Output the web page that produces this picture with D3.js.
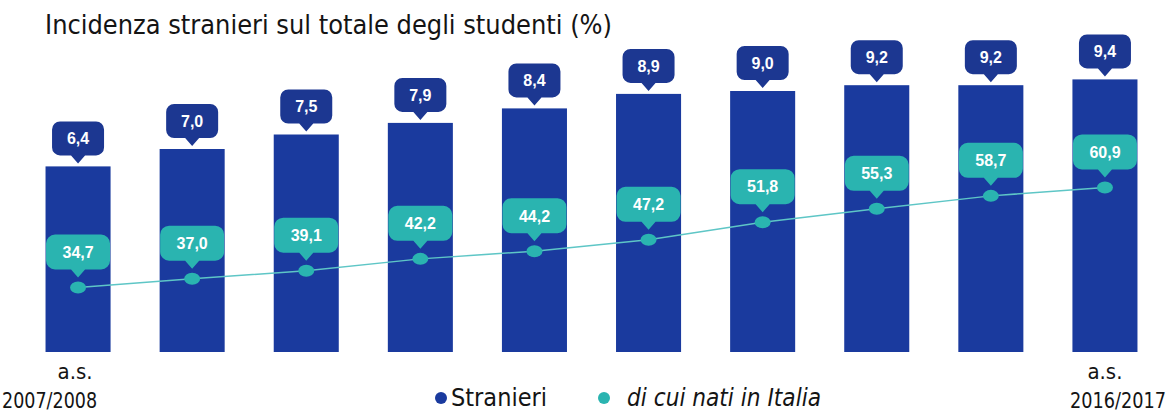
<!DOCTYPE html>
<html>
<head>
<meta charset="utf-8">
<script src="https://cdn.jsdelivr.net/npm/d3@7"></script>
<style>
  body { margin: 0; background: #fff; }
  svg { display: block; }
</style>
</head>
<body>
<div id="chart"></div>
<script>
// Incidenza stranieri sul totale degli studenti (%)
const years = ['2007/2008', '2008/2009', '2009/2010', '2010/2011', '2011/2012',
               '2012/2013', '2013/2014', '2014/2015', '2015/2016', '2016/2017'];
const stranieri = [6.4, 7.0, 7.5, 7.9, 8.4, 8.9, 9.0, 9.2, 9.2, 9.4];
const natiItalia = [34.7, 37.0, 39.1, 42.2, 44.2, 47.2, 51.8, 55.3, 58.7, 60.9];

const width = 1176;
const height = 414;
const barColor = '#1a3a9e';
const calloutBlue = '#1c3791';
const teal = '#2ab4b0';
const lineColor = '#5ec6c6';
const textColor = '#141414';
const condensed = 'DejaVu Sans Condensed, DejaVu Sans';

const fmt = v => d3.format('.1f')(v).replace('.', ',');

const svg = d3.select('#chart').append('svg')
    .attr('width', width)
    .attr('height', height);

// Title
svg.append('text')
    .attr('x', 45)
    .attr('y', 34)
    .attr('textLength', 567)
    .attr('lengthAdjust', 'spacingAndGlyphs')
    .style('font-family', condensed)
    .style('font-size', '26px')
    .style('fill', textColor)
    .text('Incidenza stranieri sul totale degli studenti (%)');

// Scales
const x = d3.scaleBand()
    .domain(years)
    .range([21, 1162])
    .paddingInner(0.43)
    .paddingOuter(0.215);

const yBar = d3.scaleLinear()
    .domain([0, 10])
    .range([352, 62]);

const yLine = d3.scaleLinear()
    .domain([0, 110])
    .range([420, 0]);

const data = years.map((y, i) => ({ year: y, s: stranieri[i], n: natiItalia[i] }));
const cx = d => x(d.year) + x.bandwidth() / 2;

// Bars
svg.append('g').selectAll('rect')
    .data(data)
    .join('rect')
    .attr('x', d => x(d.year))
    .attr('y', d => yBar(d.s))
    .attr('width', x.bandwidth())
    .attr('height', d => yBar(0) - yBar(d.s))
    .attr('fill', barColor);

// callout path: rounded rect with pointer at bottom centre, tip at (0,0)
function callout(w, h, r, pw, ph) {
    const p = d3.path();
    const top = -ph - h, bot = -ph, l = -w / 2, rgt = w / 2;
    p.moveTo(0, 0);
    p.lineTo(-pw / 2, bot);
    p.lineTo(l + r, bot);
    p.arcTo(l, bot, l, bot - r, r);
    p.lineTo(l, top + r);
    p.arcTo(l, top, l + r, top, r);
    p.lineTo(rgt - r, top);
    p.arcTo(rgt, top, rgt, top + r, r);
    p.lineTo(rgt, bot - r);
    p.arcTo(rgt, bot, rgt - r, bot, r);
    p.lineTo(pw / 2, bot);
    p.closePath();
    return p.toString();
}

// Bar value callouts
const barLabels = svg.append('g').selectAll('g')
    .data(data)
    .join('g')
    .attr('transform', d => `translate(${cx(d)}, ${yBar(d.s) - 3})`);

barLabels.append('path')
    .attr('d', callout(52, 34, 8, 14, 8))
    .attr('fill', calloutBlue);

barLabels.append('text')
    .attr('y', -8 - 17)
    .attr('dy', '0.36em')
    .attr('text-anchor', 'middle')
    .style('font-family', 'Liberation Sans, Arial, sans-serif')
    .style('font-size', '16px')
    .style('font-weight', 'bold')
    .style('fill', '#fff')
    .text(d => fmt(d.s));

// Line
const line = d3.line()
    .x(cx)
    .y(d => yLine(d.n));

svg.append('path')
    .datum(data)
    .attr('d', line)
    .attr('fill', 'none')
    .attr('stroke', lineColor)
    .attr('stroke-width', 1.5);

svg.append('g').selectAll('ellipse')
    .data(data)
    .join('ellipse')
    .attr('cx', cx)
    .attr('cy', d => yLine(d.n))
    .attr('rx', 8)
    .attr('ry', 6)
    .attr('fill', teal);

// Line value callouts
const lineLabels = svg.append('g').selectAll('g')
    .data(data)
    .join('g')
    .attr('transform', d => `translate(${cx(d)}, ${yLine(d.n) - 10})`);

lineLabels.append('path')
    .attr('d', callout(64, 35, 9, 14, 8))
    .attr('fill', teal);

lineLabels.append('text')
    .attr('y', -8 - 17.5)
    .attr('dy', '0.36em')
    .attr('text-anchor', 'middle')
    .style('font-family', 'Liberation Sans, Arial, sans-serif')
    .style('font-size', '16px')
    .style('font-weight', 'bold')
    .style('fill', '#fff')
    .text(d => fmt(d.n));

// X labels (first and last only)
const first = data[0], last = data[data.length - 1];

function xLabel(px, t, anchor, y, size, len) {
    const el = svg.append('text')
        .attr('x', px)
        .attr('y', y)
        .attr('text-anchor', anchor)
        .style('font-family', condensed)
        .style('font-size', size + 'px')
        .style('fill', textColor)
        .text(t);
    if (len) el.attr('textLength', len).attr('lengthAdjust', 'spacingAndGlyphs');
}

xLabel(cx(first) - 3, 'a.s.', 'middle', 379, 22);
xLabel(cx(first) + 19, first.year, 'end', 408, 22, 95);
xLabel(cx(last), 'a.s.', 'middle', 379, 22);
xLabel(cx(last) + 13, last.year, 'middle', 408, 22, 96);

// Legend
const legend = svg.append('g').attr('transform', 'translate(441, 398)');
legend.append('circle').attr('cx', 0).attr('cy', 0).attr('r', 6).attr('fill', barColor);
legend.append('text')
    .attr('x', 10).attr('y', 8)
    .attr('textLength', 96)
    .attr('lengthAdjust', 'spacingAndGlyphs')
    .style('font-family', condensed)
    .style('font-size', '24px')
    .style('fill', textColor)
    .text('Stranieri');
legend.append('circle').attr('cx', 163).attr('cy', 0).attr('r', 6).attr('fill', teal);
legend.append('text')
    .attr('x', 186).attr('y', 8)
    .attr('textLength', 194)
    .attr('lengthAdjust', 'spacingAndGlyphs')
    .style('font-family', condensed)
    .style('font-size', '24px')
    .style('font-style', 'italic')
    .style('fill', textColor)
    .text('di cui nati in Italia');
</script>
</body>
</html>
